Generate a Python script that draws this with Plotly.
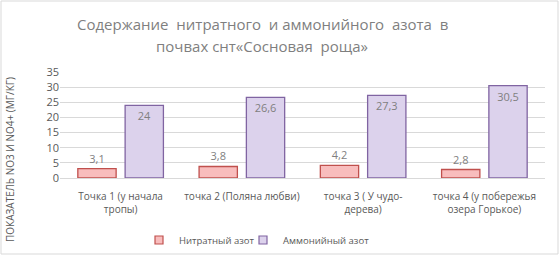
import plotly.graph_objects as go

categories = ["Точка 1 (у начала<br>тропы)", "точка 2 (Поляна любви)", "точка 3 ( У чудо-<br>дерева)", "точка 4 (у побережья<br>озера Горькое)"]
nitrate = [3.1, 3.8, 4.2, 2.8]
ammonium = [24, 26.6, 27.3, 30.5]
y_ticks = [0, 5, 10, 15, 20, 25, 30, 35]
series_names = ["Нитратный азот", "Аммонийный азот"]
title_lines = ["Содержание  нитратного  и аммонийного  азота  в", "почвах снт«Сосновая  роща»"]
axis_title = "ПОКАЗАТЕЛЬ NO3 И NO4+ (МГ/КГ)"

W, H = 560, 256
L, R, T, B = 60, 15, 72, 78

RED_FILL, RED_LINE = "#F8BDBD", "#C0504D"
PUR_FILL, PUR_LINE = "#DCD2EC", "#8064A2"

def fmt(v):
    return f"{v:g}".replace(".", ",")

def px_x(px):
    return (px - L) / (W - L - R)

def px_y(py):
    return (H - B - py) / (H - T - B)

fig = go.Figure()
fig.add_trace(go.Bar(
    x=categories, y=nitrate, name=series_names[0], showlegend=False,
    marker=dict(color=RED_FILL, line=dict(color=RED_LINE, width=1.3)),
    text=[fmt(v) for v in nitrate], textposition="outside",
    textfont=dict(color="#7F7F7F", size=11), cliponaxis=False,
))
fig.add_trace(go.Bar(
    x=categories, y=ammonium, name=series_names[1], showlegend=False,
    marker=dict(color=PUR_FILL, line=dict(color=PUR_LINE, width=1.3)),
    text=[fmt(v) for v in ammonium], textposition="inside", insidetextanchor="end",
    textfont=dict(color="#7F7F7F", size=11),
))
# legend-only entries with small square swatches, each in its own legend box
for nm, fc, lc, lg in [(series_names[0], RED_FILL, RED_LINE, "legend"),
                       (series_names[1], PUR_FILL, PUR_LINE, "legend2")]:
    fig.add_trace(go.Scatter(x=[None], y=[None], mode="markers", name=nm, legend=lg,
                             marker=dict(symbol="square", size=8, color=fc, line=dict(color=lc, width=1.2))))

legend_style = dict(orientation="v", yanchor="middle", xanchor="left", y=px_y(240),
                    font=dict(size=9.5, color="#595959"), itemwidth=30,
                    bgcolor="rgba(0,0,0,0)")
fig.update_layout(
    width=W, height=H,
    margin=dict(l=L, r=R, t=T, b=B, autoexpand=False),
    paper_bgcolor="white", plot_bgcolor="white",
    font=dict(family="Open Sans", color="#595959"),
    barmode="group", bargap=0.22, bargroupgap=0.19,
    showlegend=True,
    legend=dict(x=px_x(139), **legend_style),
    legend2=dict(x=px_x(243), **legend_style),
    uniformtext=dict(minsize=8, mode="show"),
)
fig.update_xaxes(showgrid=False, showline=True, linecolor="#D9D9D9", ticks="",
                 automargin=False, ticklabelstandoff=9,
                 tickfont=dict(size=10, color="#595959"))
fig.update_yaxes(range=[0, 35], tickvals=y_ticks, showgrid=True, gridcolor="#D9D9D9",
                 zeroline=False, ticks="", automargin=False,
                 tickfont=dict(size=11, color="#595959"))

for line, ypx in zip(title_lines, [24, 46]):
    fig.add_annotation(text=line, xref="paper", yref="paper", x=px_x(262), y=px_y(ypx),
                       xanchor="center", yanchor="middle", showarrow=False,
                       font=dict(size=15, color="#7F7F7F"))
fig.add_annotation(text=axis_title, textangle=-90,
                   xref="paper", yref="paper", x=px_x(10), y=px_y(160), xanchor="center", yanchor="middle",
                   showarrow=False, font=dict(size=10, color="#595959"))
fig.add_shape(type="rect", xref="paper", yref="paper",
              x0=px_x(1), x1=px_x(558), y0=px_y(1), y1=px_y(254),
              line=dict(color="#D9D9D9", width=1), fillcolor="rgba(0,0,0,0)", layer="below")

fig.write_html("out.html", config={"displayModeBar": False},
               post_script="document.body.style.margin='0';")
